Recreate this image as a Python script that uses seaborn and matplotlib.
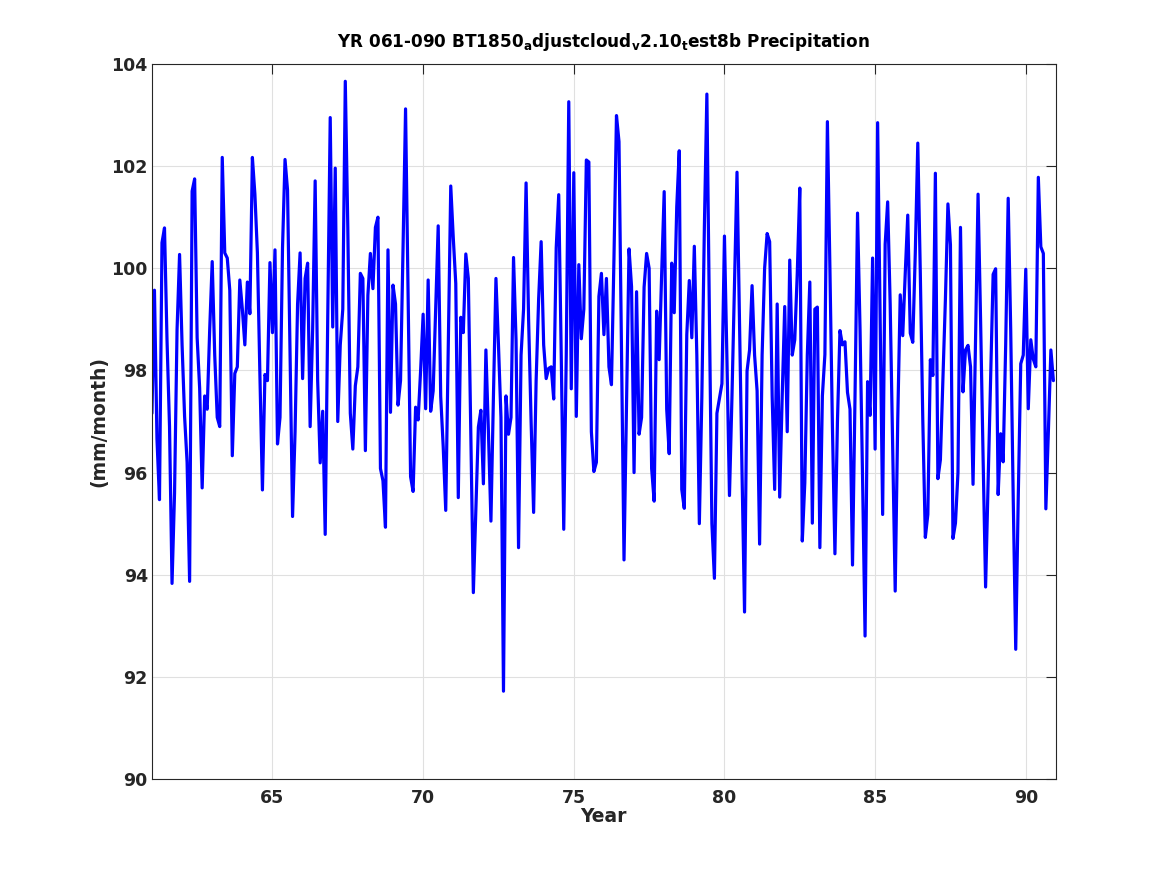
import numpy as np
import pandas as pd
import matplotlib
matplotlib.use("Agg")
import matplotlib.pyplot as plt
import seaborn as sns

# Monthly global precipitation (mm/month), model years 061-090
precip = [
    97.16, 99.57, 96.66, 95.47, 100.5, 100.79, 98.6, 96.9, 93.83, 95.6, 98.8, 100.27,
    98.5, 97.1, 96.2, 93.87, 101.51, 101.75, 98.64, 97.65, 95.7, 97.5, 97.24, 98.8,
    100.13, 98.3, 97.08, 96.9, 102.17, 100.3, 100.2, 99.57, 96.33, 97.94, 98.07, 99.77,
    99.2, 98.5, 99.73, 99.11, 102.17, 101.45, 100.3, 97.9, 95.66, 97.92, 97.8, 100.11,
    98.74, 100.36, 96.56, 97.08, 100.4, 102.13, 101.53, 98.3, 95.14, 96.8, 99.3, 100.3,
    97.84, 99.8, 100.1, 96.9, 98.8, 101.71, 97.8, 96.19, 97.2, 94.79, 99.0, 102.95,
    98.85, 101.96, 97.0, 98.5, 99.2, 103.66, 100.8, 97.16, 96.46, 97.7, 98.07, 99.9,
    99.8, 96.43, 99.47, 100.29, 99.6, 100.8, 101.0, 96.08, 95.84, 94.93, 100.36, 97.18,
    99.67, 99.3, 97.32, 97.8, 100.4, 103.12, 99.5, 95.92, 95.63, 97.28, 97.03, 98.0,
    99.1, 97.25, 99.77, 97.2, 97.6, 99.2, 100.83, 97.49, 96.5, 95.26, 98.4, 101.61,
    100.6, 99.7, 95.51, 99.04, 98.74, 100.28, 99.8, 96.7, 93.65, 95.3, 96.89, 97.22,
    95.78, 98.4, 96.8, 95.05, 97.5, 99.8, 98.5, 97.08, 91.72, 97.5, 96.75, 97.08,
    100.21, 98.6, 94.53, 98.3, 99.2, 101.67, 99.0, 97.0, 95.22, 97.8, 99.4, 100.52,
    98.5, 97.84, 98.04, 98.07, 97.44, 100.4, 101.44, 98.3, 94.89, 98.3, 103.26, 97.64,
    101.87, 97.1, 100.07, 98.62, 99.2, 102.12, 102.08, 96.8, 96.02, 96.2, 99.45, 99.9,
    98.7, 99.8, 98.07, 97.72, 100.2, 102.99, 102.48, 98.4, 94.29, 97.3, 100.38, 99.64,
    96.0, 99.54, 96.75, 97.08, 99.63, 100.29, 100.0, 96.08, 95.44, 99.16, 98.21, 99.9,
    101.5, 97.24, 96.37, 100.1, 99.13, 101.2, 102.3, 95.67, 95.3, 98.7, 99.76, 98.64,
    100.43, 98.3, 95.0, 97.49, 100.8, 103.41, 99.1, 95.0, 93.93, 97.16, 97.45, 97.74,
    100.63, 98.2, 95.55, 97.5, 99.7, 101.88, 98.9, 96.0, 93.27, 97.99, 98.4, 99.66,
    98.3, 97.6, 94.6, 98.3, 100.0, 100.68, 100.52, 97.5, 95.67, 99.3, 95.52, 97.5,
    99.25, 96.8, 100.16, 98.3, 98.6, 99.9, 101.57, 94.66, 95.8, 98.3, 99.73, 95.01,
    99.2, 99.24, 94.53, 97.5, 98.31, 102.87, 100.0, 96.9, 94.41, 97.0, 98.78, 98.5,
    98.56, 97.57, 97.24, 94.19, 97.5, 101.08, 98.8, 95.9, 92.8, 97.78, 97.12, 100.2,
    96.46, 102.85, 99.0, 95.18, 100.47, 101.3, 99.3, 96.5, 93.68, 97.0, 99.48, 98.68,
    99.9, 101.04, 98.73, 98.55, 100.3, 102.45, 99.9, 97.0, 94.73, 95.18, 98.21, 97.9,
    101.86, 95.88, 96.25, 97.8, 99.4, 101.26, 100.46, 94.71, 95.01, 96.0, 100.8, 97.58,
    98.4, 98.49, 98.07, 95.77, 98.6, 101.45, 99.0, 96.3, 93.76, 95.8, 97.9, 99.88,
    99.99, 95.57, 96.76, 96.21, 98.5, 101.37, 98.8, 95.5, 92.54, 95.5, 98.13, 98.3,
    99.98, 97.25, 98.6, 98.22, 98.07, 101.78, 100.42, 100.29, 95.29, 96.8, 98.4, 97.8,
]
start_year = 61
end_year = 91
xticks = [65, 70, 75, 80, 85, 90]
yticks = [90, 92, 94, 96, 98, 100, 102, 104]

df = pd.DataFrame({"Year": start_year + np.arange(len(precip)) / 12.0,
                   "Precip": precip})

sns.set_theme(style="whitegrid")
plt.rcParams["font.family"] = ["DejaVu Sans"]
plt.rcParams["font.weight"] = "bold"
plt.rcParams["mathtext.default"] = "bf"

edge = (0.15, 0.15, 0.15)
fig = plt.figure(figsize=(11.67, 8.75), dpi=100)
ax = fig.add_axes([0.1302, 0.1097, 0.7746, 0.8172])

sns.lineplot(data=df, x="Year", y="Precip", color=(0, 0, 1), linewidth=2.3, ax=ax)

ax.set_xlim(start_year, end_year)
ax.set_ylim(90, 104)
ax.set_xticks(xticks)
ax.set_yticks(yticks)
ax.grid(True, color=(0.88, 0.88, 0.88), linewidth=0.8)
ax.tick_params(direction="in", length=7, width=0.8, color=edge, labelcolor=edge,
               labelsize=12.5, top=True, right=True)
ax.tick_params(axis="x", pad=7)
ax.tick_params(axis="y", pad=3)
for lab in ax.get_xticklabels() + ax.get_yticklabels():
    lab.set_fontweight("bold")
for s in ax.spines.values():
    s.set_visible(True)
    s.set_color(edge)
    s.set_linewidth(0.8)

ax.set_xlabel("Year", fontsize=13.5, fontweight="bold", color=edge, labelpad=0)
ax.set_ylabel("(mm/month)", fontsize=13.5, fontweight="bold", color=edge, labelpad=2)
ax.set_title("YR 061-090 BT1850$_a$djustcloud$_v$2.10$_t$est8b Precipitation",
             fontsize=12.2, fontweight="bold", color="black", pad=12)

fig.savefig("out.png", dpi=100, facecolor="white")
